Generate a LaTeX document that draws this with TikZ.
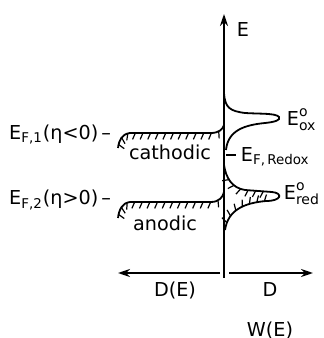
\documentclass[tikz,border=0pt]{standalone}
\usepackage{fontspec}
\setmainfont{DejaVu Sans}
\usepackage{tikz}
\usetikzlibrary{arrows.meta,decorations.markings}
\newcommand{\Enought}[1]{$\mbox{E}^{\mbox{\scriptsize o}}_{\mbox{\scriptsize #1}}$}

\begin{document}
\begin{tikzpicture}[
    x=0.5pt, y=0.5pt,
    line width=0.9pt,
    every node/.style={font=\fontsize{9.6}{11}\selectfont, inner sep=1pt},
    axisarrow/.style={-{Stealth[length=6pt,width=4pt]}},
    hatched/.style={postaction={decorate, decoration={markings,
        mark=between positions #1 and 0.97 step 3.8pt with {\draw[line width=0.6pt] (0pt,0pt) -- (-1.4pt,-3.2pt);}}}},
    hatched/.default=0.03
]
\useasboundingbox (0,0) rectangle (324,338);

% axes
\coordinate (ybot) at (224,60);
\coordinate (ytop) at (224,324);
\coordinate (lgap) at (220,65);
\coordinate (lend) at (118,65);
\coordinate (rgap) at (229,65);
\coordinate (rend) at (313,65);
\draw[axisarrow] (ybot) -- (ytop);
\draw[axisarrow] (lgap) -- (lend);
\draw[axisarrow] (rgap) -- (rend);
\node (elab) at (243,308) {E};

% metal, two Fermi levels
\draw[hatched] (118,190) .. controls (119,198) and (122,204) .. (130,205) -- (211,205)
    .. controls (219,205) and (223,209) .. (224,213);
\draw[hatched] (118,120) .. controls (119,128) and (122,135) .. (130,136) -- (211,136)
    .. controls (219,136) and (223,141) .. (224,146);
\node[anchor=east] (ef1) at (114,204) {E\textsubscript{F,1}(η<0)\,–};
\node[anchor=east] (ef2) at (114,138) {E\textsubscript{F,2}(η>0)\,–};
\node (cath) at (170,186) {cathodic};
\node (anod) at (165,115) {anodic};

% redox electrolyte
\draw (224,245) .. controls (225,230) and (230,227) .. (245,225)
    .. controls (260,224) and (276,225) .. (279,221)
    .. controls (281,218) and (275,216) .. (265,215)
    .. controls (245,213) and (228,208) .. (226,188);
\coordinate (redtop) at (272,146);
\coordinate (redbot) at (266,137);
\draw[hatched=0.25] (224,173) .. controls (226,160) and (232,150) .. (245,148) -- (redtop);
\draw (redtop) .. controls (283,145) and (282,137) .. (redbot);
\draw[hatched] (redbot) .. controls (244,135) and (228,128) .. (225,108);
\coordinate (tick) at (226,183);
\coordinate (tickend) at (236,183);
\draw (tick) -- (tickend);
\node[anchor=west] (eox) at (284,218) {\Enought{ox}};
\node[anchor=west] (efr) at (238,181) {E\textsubscript{F,\,Redox}};
\node[anchor=west] (ered) at (281,144) {\Enought{red}};

\node (de) at (175,48) {D(E)};
\node (dd) at (270,48) {D};
\node (we) at (270,8) {W(E)};
\end{tikzpicture}
\end{document}
